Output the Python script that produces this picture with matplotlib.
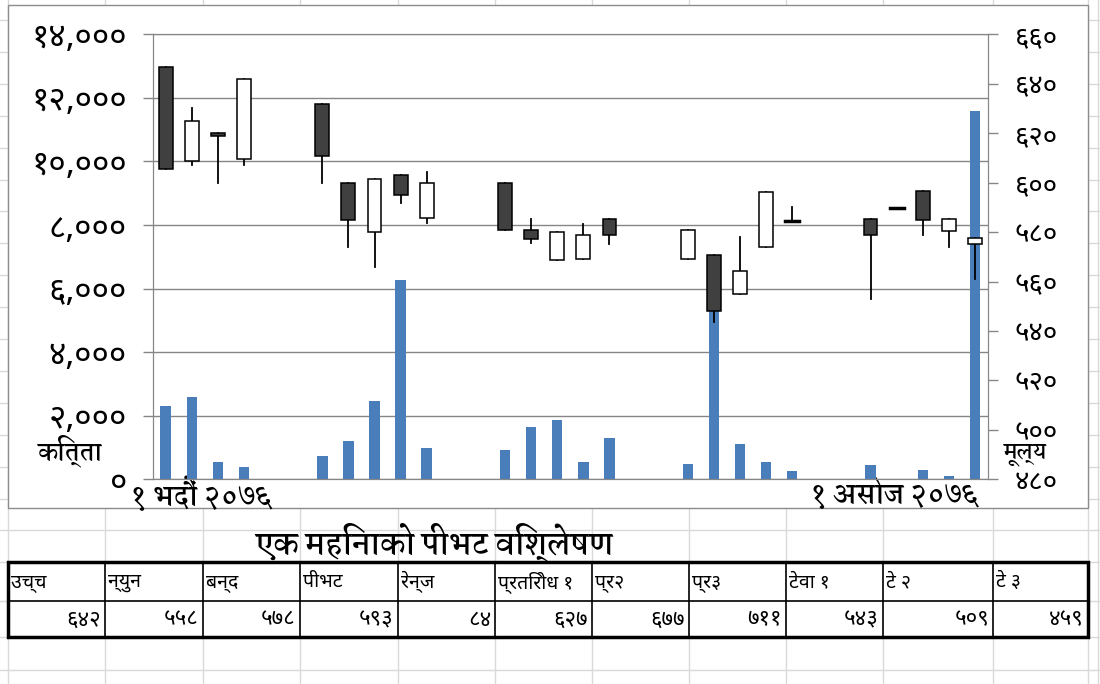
import matplotlib
matplotlib.use("Agg")
import numpy as np
import matplotlib.pyplot as plt
from matplotlib import font_manager as fm
from matplotlib.ft2font import FT2Font
from matplotlib.patches import Rectangle

# trading days counted from 1 Bhadra 2076 (fri/sat left empty)
days = [0, 1, 2, 3, 6, 7, 8, 9, 10, 13, 14, 15, 16, 17, 20, 21, 22, 23, 24, 27, 28, 29, 30, 31]
opens = [646.6, 608.8, 620.2, 609.6, 631.8, 599.8, 580.1, 603.0, 585.5, 599.8, 580.8, 568.6,
         569.0, 585.1, 569.0, 570.9, 554.9, 573.8, 584.5, 585.1, 589.7, 596.7, 580.4, 575.0]
highs = [646.6, 630.0, 620.2, 641.8, 631.8, 599.8, 601.5, 603.0, 604.1, 599.8, 585.1, 580.1,
         583.2, 585.1, 580.8, 570.9, 578.1, 596.2, 590.0, 585.1, 589.7, 596.7, 585.1, 577.8]
lows = [605.7, 607.1, 599.7, 607.1, 599.7, 573.8, 565.8, 591.6, 583.7, 580.8, 575.5, 568.6,
        569.0, 575.0, 569.0, 543.6, 554.9, 573.8, 584.5, 552.8, 589.7, 578.7, 573.8, 561.0]
closes = [605.7, 625.0, 619.0, 641.8, 610.9, 584.8, 601.5, 594.8, 599.8, 580.8, 577.0, 580.1,
          579.0, 578.7, 580.8, 548.0, 564.2, 596.2, 584.5, 578.7, 589.7, 584.8, 585.1, 577.8]
volume = [2300, 2600, 540, 390, 720, 1200, 2450, 6270, 1000, 910, 1630, 1880,
          535, 1300, 495, 5500, 1100, 535, 250, 440, 10, 295, 105, 11600]

vol_ticks = list(range(0, 14001, 2000))
price_ticks = list(range(480, 661, 20))

title = "एक महिनाको पीभट विश्लेषण"
tbl_head = ["उच्च", "न्युन", "बन्द", "पीभट", "रेन्ज", "प्रतिरोध १", "प्र२", "प्र३", "टेवा १", "टे २", "टे ३"]
tbl_vals = [642, 558, 578, 593, 84, 627, 677, 711, 543, 509, 459]

# fonts that have devanagari
deva = []
for path in fm.findSystemFonts():
    try:
        ft = FT2Font(path)
    except Exception:
        continue
    if 0x0915 in ft.get_charmap() and ft.family_name not in deva:
        deva.append(ft.family_name)

def pick(prefs):
    for p in prefs:
        if p in deva:
            return p
    return deva[0] if deva else 'DejaVu Sans'

sans = pick(['Noto Sans Devanagari', 'Noto Sans Devanagari UI', 'Mukta', 'Ek Mukta'])
serif = pick(['Martel', 'Kadwa', 'Sura', 'Noto Serif Devanagari', sans])
plt.rcParams['font.family'] = [sans, 'DejaVu Sans']
SERIF = [serif, 'DejaVu Sans']

DIG = str.maketrans("0123456789", "०१२३४५६७८९")
def nep(v, comma=False):
    s = f"{int(v):,}" if comma else str(int(v))
    return s.translate(DIG)

fig = plt.figure(figsize=(11, 6.84), dpi=100)

# spreadsheet behind the chart (pixel coords)
bg = fig.add_axes([0, 0, 1, 1], zorder=0)
bg.set_xlim(0, 1100)
bg.set_ylim(684, 0)
bg.axis('off')
cols = [8, 105, 203, 300, 398, 495, 592, 689, 786, 883, 993, 1088]
rows = list(np.arange(20, 531, 31.9)) + [562, 601, 637, 670]
for x in cols + [1098]:
    bg.axvline(x, color='#d9d9d9', lw=1)
for y in rows:
    bg.axhline(y, color='#d9d9d9', lw=1)
bg.add_patch(Rectangle((8, 5), 1080, 503, facecolor='white', edgecolor='#8c8c8c', lw=1, zorder=2))

# title + table
bg.text(434, 542, title, ha='center', va='center', fontsize=21.5, fontweight='bold',
        family=SERIF, zorder=3)
bg.add_patch(Rectangle((8, 562), 1080, 75, facecolor='white', edgecolor='black', lw=2.5, zorder=3))
bg.plot([8, 1088], [601, 601], color='black', lw=1.2, zorder=4)
for i in range(len(tbl_head)):
    x0, x1 = cols[i], cols[i + 1]
    if i > 0:
        bg.plot([x0, x0], [562, 637], color='black', lw=1.2, zorder=4)
    bg.text(x0 + 3, 582, tbl_head[i], ha='left', va='center', fontsize=14, zorder=5)
    bg.text(x1 - 4, 620, nep(tbl_vals[i]), ha='right', va='center', fontsize=16, zorder=5)

# chart
L, R, T, B = 152.6, 988, 34.3, 479.3
ax = fig.add_axes([L / 1100, 1 - B / 684, (R - L) / 1100, (B - T) / 684], zorder=3)
ax.set_facecolor('none')
ax.bar(days, volume, width=0.4, color='#4a7ebb', zorder=2)
ax.set_xlim(-0.5, 31.5)
ax.set_ylim(0, 14000)
ax.set_yticks(vol_ticks)
ax.set_yticklabels([nep(v, True) for v in vol_ticks])
ax.set_xticks([])
ax.grid(axis='y', color='#868686', lw=1)
ax.set_axisbelow(True)
ax.tick_params(axis='y', direction='out', length=7.5, width=1, color='#868686', pad=11, labelsize=24)
for s in ax.spines.values():
    s.set_color('#868686')

ax2 = ax.twinx()
ax2.set_ylim(480, 660)
ax2.set_yticks(price_ticks)
ax2.set_yticklabels([nep(v) for v in price_ticks])
ax2.tick_params(axis='y', direction='out', length=7, width=1, color='#868686', pad=12, labelsize=20)
for s in ax2.spines.values():
    s.set_color('#868686')

# candles: wick behind, body on top
w = 0.53
for d, o, h, l, c in zip(days, opens, highs, lows, closes):
    ax2.plot([d, d], [l, h], color='black', lw=1.3, zorder=2)
    if abs(c - o) < 0.5:
        ax2.plot([d - w / 2, d + w / 2], [o, o], color='black', lw=2.5, zorder=3)
    else:
        fc = '#404040' if c < o else 'white'
        ax2.add_patch(Rectangle((d - w / 2, min(o, c)), w, abs(c - o), facecolor=fc,
                                edgecolor='black', lw=1.1, zorder=3))

bg.text(38, 451, "कित्ता", ha='left', va='center', fontsize=17, fontweight='bold', family=SERIF, zorder=5)
bg.text(1004, 455, "मूल्य", ha='left', va='center', fontsize=15, fontweight='bold', family=SERIF, zorder=5)
bg.text(130, 494, "१ भदौं २०७६", ha='left', va='center', fontsize=19.5, fontweight='bold', family=SERIF, zorder=5)
bg.text(979, 492, "१ असोज २०७६", ha='right', va='center', fontsize=19.5, fontweight='bold', family=SERIF, zorder=5)

fig.savefig("out.png", dpi=100)
